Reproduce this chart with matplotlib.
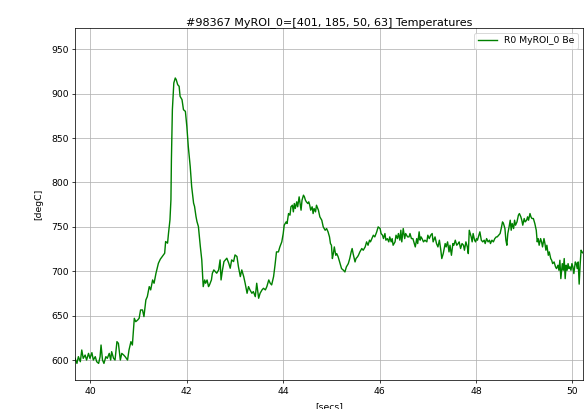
"""
plot.py - ROI temperature trace.

Purpose:
  Plot the mean temperature of one region of interest over time
  and save the chart as out.png.
"""

from pathlib import Path
from typing import Final

import matplotlib

matplotlib.use("Agg")
import matplotlib.pyplot as plt

OUT_FILE: Final[Path] = Path("out.png")

# Render at 67 dpi so the default font/line sizes come out small.
DPI: Final[int] = 67
WIDTH_PX: Final[int] = 587
HEIGHT_PX: Final[int] = 409

TITLE: Final[str] = "#98367 MyROI_0=[401, 185, 50, 63] Temperatures"
SERIES_LABEL: Final[str] = "R0 MyROI_0 Be"
X_LABEL: Final[str] = "[secs]"
Y_LABEL: Final[str] = "[degC]"

# Sample times [secs]
times = [
    39.68, 39.72, 39.75, 39.79, 39.82, 39.85, 39.89, 39.92, 39.96, 39.99,
    40.03, 40.06, 40.10, 40.13, 40.17, 40.20, 40.22, 40.25, 40.28, 40.32,
    40.35, 40.39, 40.42, 40.44, 40.48, 40.51, 40.55, 40.58, 40.62, 40.65,
    40.69, 40.72, 40.77, 40.80, 40.84, 40.87, 40.91, 40.94, 40.98, 41.01,
    41.04, 41.08, 41.11, 41.15, 41.18, 41.22, 41.25, 41.29, 41.32, 41.36,
    41.41, 41.45, 41.49, 41.54, 41.56, 41.60, 41.62, 41.65, 41.67, 41.68,
    41.70, 41.73, 41.76, 41.78, 41.81, 41.84, 41.86, 41.90, 41.93, 41.97,
    42.00, 42.03, 42.07, 42.10, 42.14, 42.16, 42.19, 42.21, 42.24, 42.28,
    42.31, 42.34, 42.37, 42.39, 42.42, 42.45, 42.47, 42.51, 42.53, 42.56,
    42.59, 42.62, 42.66, 42.69, 42.71, 42.74, 42.77, 42.80, 42.83, 42.87,
    42.90, 42.93, 42.97, 43.00, 43.04, 43.07, 43.11, 43.14, 43.18, 43.21,
    43.25, 43.28, 43.31, 43.35, 43.38, 43.42, 43.45, 43.49, 43.52, 43.56,
    43.59, 43.63, 43.66, 43.70, 43.73, 43.76, 43.80, 43.83,
    43.86, 43.90, 43.93, 43.97, 44.00, 44.02, 44.06, 44.08, 44.11, 44.14,
    44.16, 44.19, 44.21, 44.23, 44.25, 44.28, 44.30, 44.33, 44.35, 44.37,
    44.39, 44.42, 44.44, 44.46, 44.48, 44.51, 44.53, 44.55, 44.57, 44.60,
    44.62, 44.64, 44.67, 44.69, 44.73, 44.76, 44.80, 44.83, 44.87, 44.90,
    44.93, 44.96, 44.98, 45.00, 45.02, 45.04, 45.06, 45.09, 45.11, 45.14,
    45.18, 45.21, 45.25, 45.28, 45.31, 45.35, 45.38, 45.41, 45.43, 45.45,
    45.49, 45.51, 45.54, 45.56, 45.59, 45.63, 45.66, 45.70, 45.73, 45.76,
    45.79, 45.81, 45.84, 45.87, 45.90, 45.94, 45.97, 46.01, 46.03, 46.06,
    46.08, 46.11, 46.13, 46.16, 46.19, 46.21, 46.24, 46.26, 46.28, 46.32,
    46.34, 46.37, 46.39, 46.42, 46.44, 46.46, 46.49, 46.52, 46.54, 46.56,
    46.58, 46.61, 46.63, 46.66, 46.69, 46.71, 46.74, 46.77, 46.79, 46.82,
    46.84, 46.86, 46.88, 46.91, 46.94, 46.98, 47.00, 47.03, 47.06, 47.09,
    47.11, 47.15, 47.18, 47.21, 47.24, 47.27, 47.29, 47.32, 47.36, 47.38,
    47.41, 47.44, 47.46, 47.49, 47.52, 47.54, 47.57, 47.60, 47.63, 47.65,
    47.68, 47.71, 47.74, 47.76, 47.79, 47.82, 47.84, 47.86, 47.90, 47.92,
    47.94, 47.97, 47.99, 48.01, 48.03, 48.06, 48.08, 48.11, 48.14, 48.17,
    48.19, 48.22, 48.25, 48.28, 48.30, 48.33, 48.36, 48.39, 48.42, 48.44,
    48.47, 48.50, 48.53, 48.55, 48.57, 48.60, 48.62, 48.64, 48.66, 48.68,
    48.71, 48.73, 48.75, 48.78, 48.80, 48.82, 48.85, 48.88, 48.90, 48.93,
    48.95, 48.97, 49.00, 49.02, 49.05, 49.07, 49.09, 49.12, 49.14, 49.16,
    49.19, 49.22, 49.25, 49.27, 49.29, 49.31, 49.34, 49.36, 49.38, 49.41,
    49.43, 49.45, 49.47, 49.50, 49.52, 49.55, 49.57, 49.59, 49.62, 49.65,
    49.67, 49.70, 49.72, 49.74, 49.76, 49.79, 49.81, 49.83, 49.85, 49.87,
    49.89, 49.91, 49.93, 49.95, 49.97, 49.99, 50.01, 50.03, 50.06, 50.08,
    50.10, 50.12, 50.14, 50.16, 50.18, 50.20, 50.23,
]

# ROI temperature [degC]
temps = [
    601.9, 596.2, 603.8, 598.1, 611.3, 601.9, 605.6, 600.0, 607.5, 601.9,
    608.3, 600.0, 603.8, 598.1, 596.2, 603.8, 616.9, 600.0, 596.2, 603.8,
    601.9, 607.5, 600.0, 609.4, 601.9, 600.0, 620.7, 618.8, 600.0, 607.5,
    605.6, 603.8, 600.0, 611.3, 620.7, 616.9, 647.0, 643.2, 645.1, 647.0,
    656.4, 656.4, 648.9, 667.7, 671.4, 682.7, 679.0, 690.2, 686.5, 697.8,
    709.0, 713.6, 716.6, 720.3, 733.5, 731.6, 742.9, 757.9, 780.5, 825.6,
    882.0, 912.1, 917.7, 915.8, 910.2, 908.3, 897.0, 893.3, 882.0, 880.1,
    863.2, 840.6, 818.1, 795.5, 776.7, 773.0, 761.7, 756.0, 750.4, 727.8,
    712.8, 682.7, 690.2, 686.5, 690.2, 682.7, 684.6, 690.2, 697.8, 701.5,
    699.6, 697.8, 701.5, 712.8, 690.2, 701.5, 710.9, 712.8, 714.7, 709.0,
    703.4, 712.8, 710.9, 718.4, 716.6, 705.3, 694.0, 701.5, 694.0, 686.5,
    675.2, 682.7, 679.0, 675.2, 677.1, 671.4, 686.5, 669.6, 675.2, 679.0,
    680.8, 679.0, 682.7, 690.2, 686.5, 684.6, 694.0, 707.1,
    721.8, 721.8, 727.4, 733.1, 742.5, 751.9, 755.6, 753.8, 765.0, 763.2,
    772.6, 774.4, 766.9, 776.3, 770.7, 778.2, 772.6, 783.8, 776.3, 768.8,
    780.1, 785.7, 783.8, 780.1, 778.2, 776.3, 778.2, 774.4, 768.8, 772.6,
    765.0, 770.7, 766.9, 774.4, 768.8, 761.3, 757.5, 750.0, 746.2, 748.1,
    744.4, 738.7, 731.2, 729.3, 714.3, 719.9, 727.4, 718.0, 719.9, 716.2,
    708.6, 703.0, 701.1, 699.2, 704.9, 708.6, 714.3, 721.8, 725.6, 719.9,
    710.5, 714.3, 716.2, 718.0, 721.8, 725.6, 723.7, 727.4, 733.1, 729.3,
    735.0, 733.1, 736.8, 740.6, 738.7, 744.4, 750.0, 748.1, 742.5, 740.6,
    736.8, 742.5, 735.0, 736.8, 733.1, 738.7, 733.1, 736.8, 729.3, 733.1,
    740.6, 736.8, 742.5, 735.0, 746.2, 733.1, 748.1, 736.8, 742.5, 740.6,
    738.7, 738.7, 742.5, 736.8, 736.8, 733.1, 727.4, 736.8, 731.2, 744.4,
    735.0, 738.7, 736.8, 733.1, 735.0, 733.1, 740.6, 736.8, 740.6, 742.5,
    733.1, 738.7, 731.2, 727.4, 735.0, 723.7, 714.3, 719.9, 731.2, 727.4,
    733.1, 721.8, 729.3, 718.0, 731.2, 729.3, 735.0, 729.3, 731.2, 733.1,
    725.6, 731.2, 729.3, 723.7, 733.1, 727.4, 719.9, 746.2, 738.7, 733.1,
    742.5, 735.0, 733.1, 736.8, 735.0, 740.6, 744.4, 735.0, 733.1, 735.0,
    731.2, 736.8, 733.1, 735.0, 731.2, 735.0, 733.1, 736.8, 738.7, 738.7,
    740.6, 742.5, 750.0, 755.6, 753.8, 748.1, 735.0, 729.3, 742.5, 748.1,
    757.5, 746.2, 753.8, 748.1, 757.5, 751.9, 755.6, 763.2, 765.0, 761.3,
    757.5, 751.9, 759.4, 755.6, 757.5, 761.3, 757.5, 765.0, 761.3, 759.4,
    759.4, 753.8, 746.2, 733.1, 736.8, 729.3, 736.8, 733.1, 727.4, 736.8,
    731.2, 723.7, 729.3, 718.0, 721.8, 714.3, 712.4, 708.6, 710.5, 704.9,
    703.0, 706.8, 701.1, 712.4, 691.7, 708.6, 701.1, 714.3, 691.7, 706.8,
    701.1, 708.6, 703.0, 704.9, 701.1, 708.6, 704.9, 697.4, 710.5, 708.6,
    703.0, 710.5, 685.5, 706.8, 723.7, 721.8, 719.9,
]

X_LIMITS: Final[tuple[float, float]] = (39.68, 50.22)
Y_LIMITS: Final[tuple[float, float]] = (577.5, 974.0)


def main() -> None:
    """Draw the temperature trace and save it."""
    fig = plt.figure(figsize=(WIDTH_PX / DPI, HEIGHT_PX / DPI), dpi=DPI)
    ax = fig.add_axes([0.1278, 0.0709, 0.8654, 0.8606])

    ax.plot(times, temps, color="g", label=SERIES_LABEL)

    ax.set_xlim(*X_LIMITS)
    ax.set_ylim(*Y_LIMITS)
    ax.grid(True)
    ax.set_title(TITLE, pad=3)
    ax.set_xlabel(X_LABEL, labelpad=7)
    ax.set_ylabel(Y_LABEL, labelpad=8)
    ax.legend(loc="upper right")

    fig.savefig(OUT_FILE, dpi=DPI)
    plt.close(fig)


if __name__ == "__main__":
    main()
